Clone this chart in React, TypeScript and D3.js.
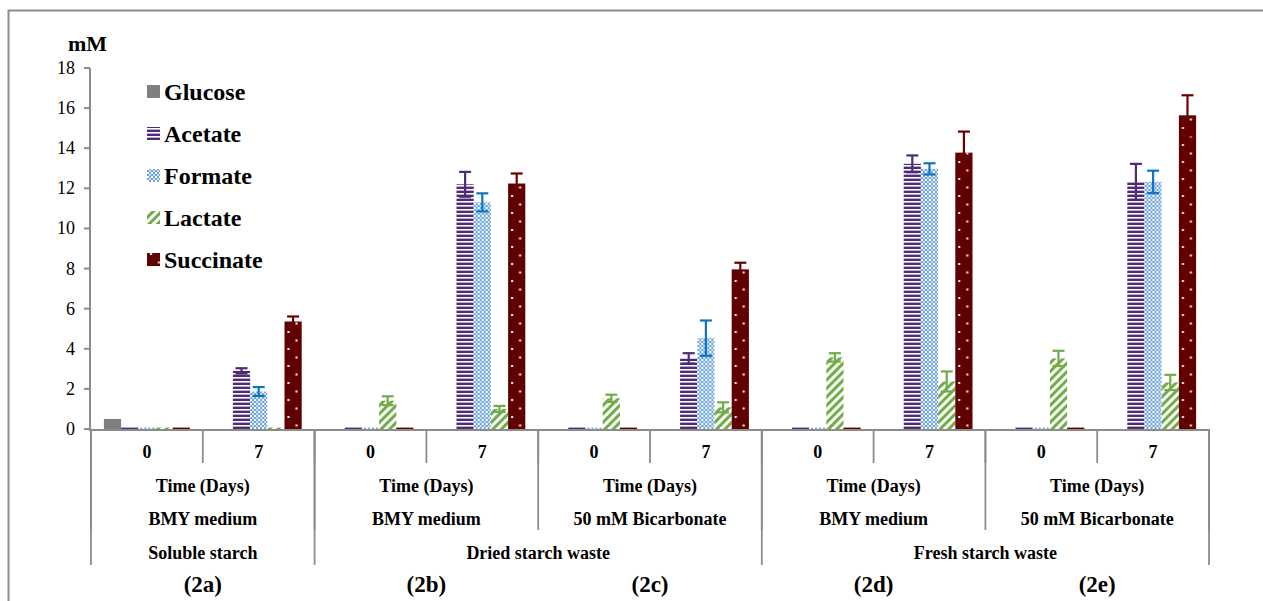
import React from 'react';
import * as d3 from 'd3';

const seriesNames = ['Glucose', 'Acetate', 'Formate', 'Lactate', 'Succinate'];
const days = ['0', '7', '0', '7', '0', '7', '0', '7', '0', '7'];
const timeLabel = 'Time (Days)';
const media = ['BMY medium', 'BMY medium', '50 mM Bicarbonate', 'BMY medium', '50 mM Bicarbonate'];
const substrates = ['Soluble starch', 'Dried starch waste', 'Fresh starch waste'];
const substratePairs = [1, 2, 2];
const panels = ['(2a)', '(2b)', '(2c)', '(2d)', '(2e)'];
const yTicks = [0, 2, 4, 6, 8, 10, 12, 14, 16, 18];

const glucose = [0.5, 0, 0, 0, 0, 0, 0, 0, 0, 0];
const acetate = [0.07, 2.9, 0.07, 12.2, 0.07, 3.52, 0.07, 13.22, 0.07, 12.32];
const formate = [0.07, 1.87, 0.07, 11.3, 0.07, 4.53, 0.07, 12.97, 0.07, 12.32];
const lactate = [0.07, 0.07, 1.41, 1.0, 1.53, 1.08, 3.57, 2.37, 3.52, 2.32];
const succinate = [0.07, 5.36, 0.07, 12.24, 0.07, 7.96, 0.07, 13.78, 0.07, 15.64];

const glucoseErr = [0, 0, 0, 0, 0, 0, 0, 0, 0, 0];
const acetateErr = [0, 0.13, 0, 0.62, 0, 0.26, 0, 0.42, 0, 0.9];
const formateErr = [0, 0.22, 0, 0.45, 0, 0.88, 0, 0.28, 0, 0.56];
const lactateErr = [0, 0, 0.22, 0.15, 0.18, 0.25, 0.21, 0.5, 0.38, 0.38];
const succinateErr = [0, 0.25, 0, 0.5, 0, 0.33, 0, 1.05, 0, 1.0];

const values = [glucose, acetate, formate, lactate, succinate];
const errors = [glucoseErr, acetateErr, formateErr, lactateErr, succinateErr];
const fills = ['url(#pGlucose)', 'url(#pAcetate)', 'url(#pFormate)', 'url(#pLactate)', 'url(#pSuccinate)'];
const errColors = ['#7f7f7f', '#4e2a78', '#0f73c4', '#70ad47', '#6a0000'];

const font = "'Liberation Serif', 'DejaVu Serif', serif";
const axisGray = '#8c8c8c';

const App: React.FC = () => {
  const width = 1263;
  const height = 601;
  const baseY = 430;

  const x = d3.scaleBand<number>().domain(d3.range(days.length)).range([91, 1209]);
  const pair = d3.scaleBand<number>().domain(d3.range(media.length)).range([91, 1209]);
  const inner = d3.scaleBand<string>().domain(seriesNames).range([0, x.bandwidth()]).paddingOuter(0.75);
  const y = d3.scaleLinear().domain([0, 18]).range([baseY - 1, 68]);
  const bw = inner.bandwidth();

  // substrate group boundaries in pair units
  const subEdges: number[] = [0];
  substratePairs.forEach(n => subEdges.push(subEdges[subEdges.length - 1] + n));

  const boldText = { fontFamily: font, fontWeight: 'bold' as const };

  return (
    <svg width={width} height={height} style={{ position: 'absolute', left: 0, top: 0, fontFamily: font }}>
      <defs>
        <pattern id="pGlucose" patternUnits="userSpaceOnUse" width={4} height={4}>
          <rect width={4} height={4} fill="#7f7f7f" />
        </pattern>
        <pattern id="pAcetate" patternUnits="userSpaceOnUse" width={4} height={4}>
          <rect width={4} height={4} fill="#fff" />
          <rect y={1.6} width={4} height={2.4} fill="#4e2a78" />
        </pattern>
        <pattern id="pFormate" patternUnits="userSpaceOnUse" width={4} height={4}>
          <rect width={4} height={4} fill="#fff" />
          <rect width={2} height={2} fill="#6ea6dc" />
          <rect x={2} y={2} width={2} height={2} fill="#6ea6dc" />
          <rect x={2} y={0} width={2} height={2} fill="#cfe0f3" />
        </pattern>
        <pattern id="pLactate" patternUnits="userSpaceOnUse" width={6} height={6} patternTransform="rotate(45)">
          <rect width={6} height={6} fill="#fff" />
          <rect width={3} height={6} fill="#70ad47" />
        </pattern>
        <pattern id="pSuccinate" patternUnits="userSpaceOnUse" width={bw} height={17} y={-17}>
          <rect width={bw} height={17} fill="#600000" />
          <rect x={3} y={4} width={2} height={2} fill="#fff" />
          <rect x={11} y={12.5} width={2} height={2} fill="#fff" />
        </pattern>
      </defs>

      {/* outer frame */}
      <rect x={8.5} y={10.5} width={1270} height={600} fill="none" stroke={axisGray} strokeWidth={2} />

      {/* y axis */}
      <text x={68} y={51} fontSize={22} style={boldText}>mM</text>
      <line x1={90} x2={90} y1={y(18)} y2={baseY} stroke={axisGray} strokeWidth={2} />
      {yTicks.map(t => (
        <g key={t}>
          <line x1={84} x2={90} y1={y(t)} y2={y(t)} stroke={axisGray} strokeWidth={2} />
          <text x={75} y={y(t) + 6} fontSize={18} textAnchor="end" style={{ fontFamily: font }}>{t}</text>
        </g>
      ))}

      {/* x axis */}
      <line x1={89} x2={1210} y1={baseY} y2={baseY} stroke={axisGray} strokeWidth={2} />
      {d3.range(days.length + 1).map(i => {
        const xx = 91 + i * x.step();
        return <line key={'d' + i} x1={xx} x2={xx} y1={baseY} y2={463} stroke={axisGray} strokeWidth={1.8} />;
      })}
      {d3.range(media.length + 1).map(i => {
        const xx = 91 + i * pair.step();
        return <line key={'p' + i} x1={xx} x2={xx} y1={baseY} y2={530} stroke={axisGray} strokeWidth={1.8} />;
      })}
      {subEdges.map(i => {
        const xx = 91 + i * pair.step();
        return <line key={'s' + i} x1={xx} x2={xx} y1={baseY} y2={565} stroke={axisGray} strokeWidth={1.8} />;
      })}

      {/* bars */}
      {days.map((_, c) => (
        <g key={c}>
          {seriesNames.map((s, si) => {
            const v = values[si][c];
            if (v <= 0) return null;
            const bx = (x(c) as number) + (inner(s) as number);
            const h = y(0) - y(v);
            return (
              <g key={s} transform={`translate(${bx},${y(0)})`}>
                <rect x={0} y={-h} width={bw} height={h} fill={fills[si]} />
              </g>
            );
          })}
          {seriesNames.map((s, si) => {
            const v = values[si][c];
            const e = errors[si][c];
            if (e <= 0) return null;
            const cx = (x(c) as number) + (inner(s) as number) + bw / 2;
            return (
              <g key={s} stroke={errColors[si]} strokeWidth={2.2}>
                <line x1={cx} x2={cx} y1={y(v + e)} y2={y(v - e)} />
                <line x1={cx - 6} x2={cx + 6} y1={y(v + e)} y2={y(v + e)} />
                <line x1={cx - 6} x2={cx + 6} y1={y(v - e)} y2={y(v - e)} />
              </g>
            );
          })}
        </g>
      ))}

      {days.map((d, i) => (
        <text key={'dl' + i} x={(x(i) as number) + x.bandwidth() / 2} y={458} fontSize={18} textAnchor="middle" style={boldText}>{d}</text>
      ))}
      {media.map((m, i) => {
        const cx = (pair(i) as number) + pair.bandwidth() / 2;
        return (
          <g key={'m' + i} textAnchor="middle">
            <text x={cx} y={492} fontSize={18} style={boldText}>{timeLabel}</text>
            <text x={cx} y={525} fontSize={18} style={boldText}>{m}</text>
            <text x={cx} y={592} fontSize={23} style={boldText}>{panels[i]}</text>
          </g>
        );
      })}
      {substrates.map((s, i) => {
        const cx = 91 + ((subEdges[i] + subEdges[i + 1]) / 2) * pair.step();
        return <text key={'sl' + i} x={cx} y={559} fontSize={18} textAnchor="middle" style={boldText}>{s}</text>;
      })}

      {/* legend */}
      {seriesNames.map((s, i) => {
        const cy = 92 + i * 42;
        return (
          <g key={'lg' + s}>
            <g transform={`translate(147,${cy + 6})`}>
              <rect x={0} y={-13} width={13} height={13} fill={fills[i]} />
            </g>
            <text x={164} y={cy + 8} fontSize={24} style={boldText}>{s}</text>
          </g>
        );
      })}
    </svg>
  );
};

export default App;
